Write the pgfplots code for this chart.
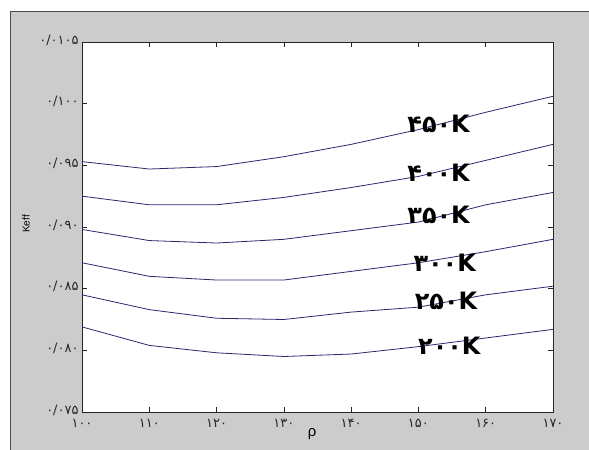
\documentclass[border=0pt]{standalone}
\usepackage{fontspec}
\setmainfont{DejaVu Sans}
\newfontfamily\arialf{Liberation Sans}
\usepackage{pgfplots}
\pgfplotsset{compat=1.18}
\definecolor{figgray}{RGB}{204,204,204}
\definecolor{linec}{RGB}{40,40,110}
\begin{document}
\begin{tikzpicture}[x=1bp,y=1bp]
\useasboundingbox (0,0) rectangle (589,450);
\fill[white] (0,0) rectangle (589,450);
\fill[figgray] (10,0) rectangle (589,439);
\draw[black!70, line width=0.8bp] (10,0) -- (10,439) -- (589,439);
\begin{axis}[
  at={(82bp,38bp)}, anchor=south west, scale only axis,
  width=471bp, height=370bp,
  xmin=100, xmax=170, ymin=0.075, ymax=0.105,
  axis background/.style={fill=white},
  xtick={100,110,120,130,140,150,160,170},
  xticklabels={۱۰۰,۱۱۰,۱۲۰,۱۳۰,۱۴۰,۱۵۰,۱۶۰,۱۷۰},
  ytick={0.075,0.080,0.085,0.090,0.095,0.100,0.105},
  yticklabels={۰/۰۷۵,۰/۰۸۰,۰/۰۸۵,۰/۰۹۰,۰/۰۹۵,۰/۱۰۰,۰/۰۱۰۵},
  scaled y ticks=false, scaled x ticks=false,
  tick align=inside, xtick pos=both, ytick pos=both,
  xticklabel pos=lower, yticklabel pos=left,
  major tick length=5bp,
  tick style={black!85, line width=0.5bp},
  axis line style={black!85, line width=0.7bp},
  ticklabel style={font=\fontsize{13}{15}\selectfont, text=black!85},
  xticklabel style={yshift=-4bp},
  yticklabel style={yshift=2bp},
]
\addplot[linec, line width=0.8bp, no marks] coordinates {(100,0.0953)(110,0.0947)(120,0.0949)(130,0.0957)(140,0.0967)(150,0.0979)(160,0.0993)(170,0.1006)};
\addplot[linec, line width=0.8bp, no marks] coordinates {(100,0.0925)(110,0.0918)(120,0.0918)(130,0.0924)(140,0.0932)(150,0.0941)(160,0.0954)(170,0.0967)};
\addplot[linec, line width=0.8bp, no marks] coordinates {(100,0.0898)(110,0.0889)(120,0.0887)(130,0.0890)(140,0.0897)(150,0.0904)(160,0.0918)(170,0.0928)};
\addplot[linec, line width=0.8bp, no marks] coordinates {(100,0.0871)(110,0.0860)(120,0.0857)(130,0.0857)(140,0.0864)(150,0.0871)(160,0.0880)(170,0.0890)};
\addplot[linec, line width=0.8bp, no marks] coordinates {(100,0.0845)(110,0.0833)(120,0.0826)(130,0.0825)(140,0.0831)(150,0.0835)(160,0.0845)(170,0.0852)};
\addplot[linec, line width=0.8bp, no marks] coordinates {(100,0.0819)(110,0.0804)(120,0.0798)(130,0.0795)(140,0.0797)(150,0.0803)(160,0.0810)(170,0.0817)};
\tikzset{curvelab/.style={font=\bfseries\fontsize{24}{26}\selectfont, text=black, inner sep=0pt}}
\node[curvelab] at (axis cs:153.0,0.0984) {۴۵۰K};
\node[curvelab] at (axis cs:153.0,0.0944) {۴۰۰K};
\node[curvelab] at (axis cs:153.0,0.0910) {۳۵۰K};
\node[curvelab] at (axis cs:153.9,0.0871) {۳۰۰K};
\node[curvelab] at (axis cs:154.1,0.0840) {۲۵۰K};
\node[curvelab] at (axis cs:154.6,0.0804) {۲۰۰K};
\end{axis}
\node[rotate=90, font=\arialf\fontsize{10}{12}\selectfont] at (26,226) {Keff};
\node[anchor=base, font=\arialf\fontsize{15}{17}\selectfont] at (312,13) {ρ};
\end{tikzpicture}
\end{document}
